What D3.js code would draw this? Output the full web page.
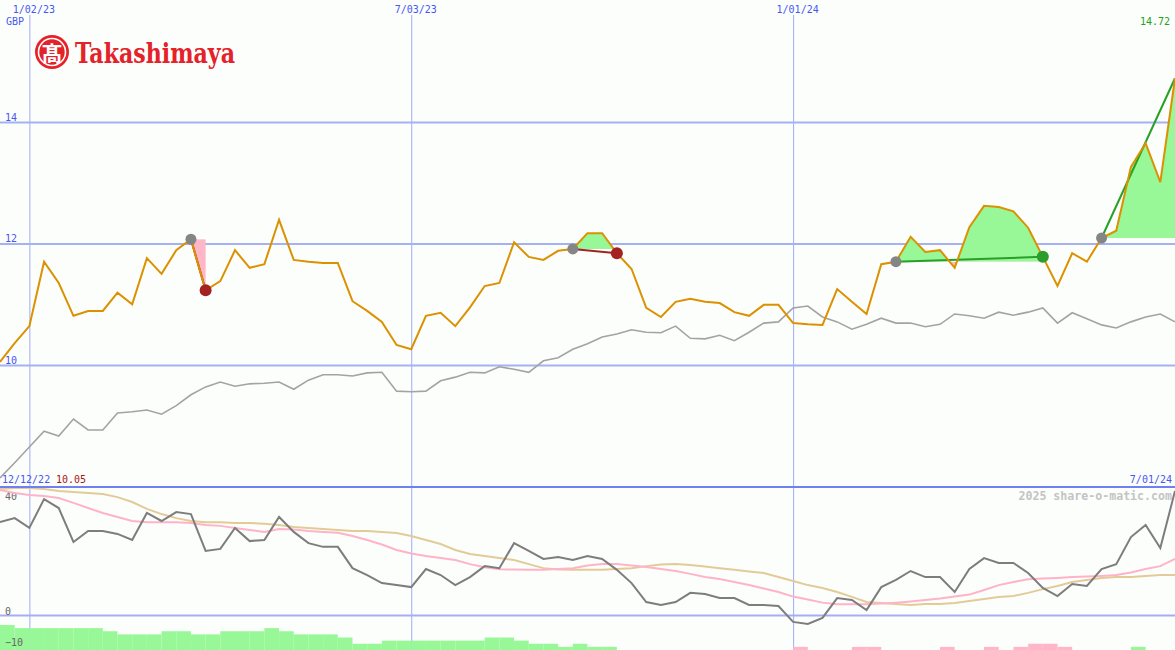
<!DOCTYPE html>
<html><head><meta charset="utf-8">
<script src="https://cdn.jsdelivr.net/npm/d3@7"></script>
<style>
body{margin:0;background:#fcfefc;}
svg{display:block;}
text{font-family:"DejaVu Sans Mono",monospace;font-size:10px;}
</style></head><body>
<svg id="c" width="1175" height="650"></svg>
<script>
// ---- data ----
const startDate = "2022-12-19";
const endDate = "2024-07-01";
const priceVals = [10.05,10.36,10.64,11.70,11.35,10.81,10.89,10.89,11.19,11.00,
 11.76,11.50,11.89,12.07,11.23,11.38,11.89,11.60,11.66,12.39,
 11.73,11.70,11.68,11.68,11.05,10.89,10.71,10.33,10.26,10.81,
 10.86,10.64,10.95,11.30,11.35,12.02,11.78,11.73,11.88,11.91,
 12.17,12.17,11.84,11.58,10.94,10.79,11.04,11.09,11.04,11.02,
 10.87,10.81,10.99,10.99,10.69,10.67,10.66,11.25,11.04,10.84,
 11.66,11.70,12.11,11.86,11.89,11.60,12.27,12.62,12.60,12.53,
 12.26,11.78,11.30,11.84,11.70,12.09,12.21,13.26,13.65,13.01,
 14.72];
const maVals = [8.14,8.39,8.65,8.91,8.83,9.11,8.93,8.93,9.21,9.23,
 9.26,9.19,9.33,9.51,9.64,9.72,9.65,9.69,9.70,9.72,
 9.60,9.75,9.84,9.84,9.82,9.87,9.88,9.57,9.56,9.57,
 9.74,9.80,9.88,9.87,9.97,9.93,9.88,10.07,10.12,10.26,
 10.35,10.46,10.51,10.58,10.54,10.53,10.64,10.44,10.43,10.49,
 10.40,10.54,10.69,10.71,10.94,10.97,10.79,10.71,10.59,10.67,
 10.77,10.69,10.69,10.63,10.67,10.84,10.81,10.77,10.87,10.82,
 10.87,10.94,10.69,10.86,10.76,10.66,10.61,10.71,10.79,10.84,
 10.71];
const oscVals = [32.3,33.7,30.3,40.3,37.2,25.4,29.2,29.2,28.2,26.1,
 35.5,32.7,35.8,35.1,22.3,23.0,30.3,25.7,26.1,34.1,
 28.9,25.0,23.7,23.7,16.3,13.9,11.1,10.4,9.7,16.0,
 13.9,10.4,13.2,17.0,16.3,25.0,22.3,19.5,20.2,19.1,
 20.5,19.5,15.7,11.1,4.5,3.5,4.5,7.7,7.3,5.9,
 5.9,3.5,3.5,3.1,-2.4,-3.1,-1.0,5.9,5.2,1.7,
 9.7,12.2,15.3,13.2,13.2,8.0,16.0,19.8,18.1,18.1,
 14.6,9.4,6.6,10.8,10.1,16.0,17.7,27.1,31.3,23.3,
 43.1];
const oscFast = [43.5,42.4,41.7,41.4,40.7,39.0,37.2,35.5,34.1,32.7,
 32.3,32.3,32.3,32.0,31.3,31.0,30.3,29.6,28.9,29.9,
 29.7,29.2,28.9,28.6,27.5,26.1,24.5,22.6,21.4,20.5,
 19.8,19.1,17.7,16.6,15.9,15.8,15.7,15.7,16.0,16.3,
 17.2,17.7,17.7,17.2,16.7,16.0,15.3,14.3,13.2,12.5,
 11.5,10.4,9.2,8.0,6.4,5.4,4.3,3.7,3.7,3.7,
 4.0,4.3,4.7,5.2,5.7,6.4,7.1,8.7,10.4,11.5,
 12.4,12.7,12.9,13.2,13.4,13.6,13.9,14.8,16.0,17.0,
 19.5];
const oscSlow = [43.8,44.2,44.2,43.8,43.1,42.8,42.4,42.1,41.0,39.3,
 36.9,35.1,33.7,32.7,32.3,32.3,32.0,32.0,31.7,31.3,
 30.6,30.3,29.9,29.6,29.2,29.2,28.9,28.5,27.5,26.1,
 24.7,22.6,21.2,20.5,19.8,19.1,17.7,16.3,15.8,15.7,
 15.7,15.7,16.0,16.3,17.0,17.6,17.7,17.4,16.9,16.3,
 15.7,15.1,14.6,13.2,11.8,10.4,9.4,8.0,6.3,4.5,
 4.2,3.8,3.5,3.8,3.8,4.2,4.9,5.6,6.3,6.6,
 7.7,9.0,10.1,11.5,12.2,12.9,13.2,13.2,13.6,13.9,
 13.9];
const barVals = [8,7,7,7,7,7,7,6,5,5, 5,6,6,5,5,6,6,6,7,6,
 5,5,5,4,2,2,3,3,3,3, 3,3,3,4,4,3,2,2,1,2,
 1,1,0,0,0,0,0,0,0,0, 0,0,0,0,-1,0,0,0,-1,-1,
 0,0,0,0,-1,0,0,-1,0,-1, -2,-2,-1,0,0,0,0,1,0,0];
const signalStart = [13, 39, 61, 75];
const signalEnd   = [14, 42, 71, 80];
const signalWin   = [false, false, true, true];
const yTicks = [10, 12, 14];
const oscTicks = [40, 0, -10];
const dateTicks = ["2023-01-02", "2023-07-03", "2024-01-01"];
const dateTickLabels = ["1/02/23", "7/03/23", "1/01/24"];
const currency = "GBP";
const lastLabel = "14.72";
const firstDateLabel = "12/12/22";
const firstValLabel = "10.05";
const lastDateLabel = "7/01/24";
const credit = "2025 share-o-matic.com";

// ---- setup ----
const W = 1175, H = 650;
const svg = d3.select("#c");
svg.append("rect").attr("width", W).attr("height", H).attr("fill", "#fcfefc");

const parse = d3.utcParse("%Y-%m-%d");
const dates = d3.utcMonday.range(parse(startDate), d3.utcDay.offset(parse(endDate), 1));
const x = d3.scaleUtc().domain([dates[0], dates[dates.length - 1]]).range([0, W]);
const y = d3.scaleLinear().domain([10, 14]).range([365, 122]);
const yL = d3.scaleLinear().domain([0, 40]).range([615, 500]);
const yBar = d3.scaleLinear().domain([0, 8]).range([650, 625]);
const sepY = Math.round(y(8));
const xi = i => x(dates[i]);

// vertical grid (date axis)
const gx = svg.append("g").call(d3.axisTop(x).tickValues(dateTicks.map(parse)).tickSize(-H).tickFormat((d, i) => dateTickLabels[i]));
gx.select(".domain").remove();
gx.selectAll("line").attr("stroke", "#a1abf3").attr("stroke-width", 1).attr("y1", 15).attr("y2", H);
gx.selectAll("text").attr("y", 13).attr("dy", 0).attr("x", 4).attr("fill", "#4657f2")
  .style("font-family", "DejaVu Sans Mono").style("font-size", "10px");

// horizontal grid main
const gy = svg.append("g").call(d3.axisRight(y).tickValues(yTicks).tickSize(W).tickFormat(d3.format("d")));
gy.select(".domain").remove();
gy.selectAll("line").attr("stroke", "#a6b1f2").attr("stroke-width", 2);
gy.selectAll("text").attr("x", 5).attr("y", -2).attr("dy", 0).attr("fill", "#4657f2")
  .style("font-family", "DejaVu Sans Mono").style("font-size", "10px");

svg.append("text").attr("x", 6).attr("y", 25).attr("fill", "#4657f2").text(currency);

// signal fills
const defs = svg.append("defs");
signalStart.forEach((s, k) => {
  const e = signalEnd[k];
  const base = priceVals[s];
  const idx = d3.range(s, e + 1);
  const area = d3.area().x(i => xi(i)).y0(y(base)).y1(i => y(priceVals[i]));
  const x0 = xi(s), x1 = xi(e);
  defs.append("clipPath").attr("id", "up" + k).append("rect")
    .attr("x", x0).attr("y", 0).attr("width", x1 - x0 + 1).attr("height", y(base));
  defs.append("clipPath").attr("id", "dn" + k).append("rect")
    .attr("x", x0).attr("y", y(base)).attr("width", x1 - x0 + 1).attr("height", sepY - y(base));
  svg.append("path").datum(idx).attr("d", area).attr("fill", "#98f898").attr("clip-path", "url(#up" + k + ")");
  svg.append("path").datum(idx).attr("d", area).attr("fill", "#ffb6c6").attr("clip-path", "url(#dn" + k + ")");
});

// signal lines (under price)
signalStart.forEach((s, k) => {
  const e = signalEnd[k];
  const col = signalWin[k] ? "#27a027" : "#a52222";
  svg.append("line").attr("x1", xi(s)).attr("y1", y(priceVals[s])).attr("x2", xi(e)).attr("y2", y(priceVals[e]))
    .attr("stroke", col).attr("stroke-width", 2);
});

// main lines
const lineMain = d3.line().x((d, i) => xi(i)).y(d => y(d));
svg.append("path").datum(maVals).attr("d", lineMain).attr("fill", "none").attr("stroke", "#a3a3a3").attr("stroke-width", 1.6);
svg.append("path").datum(priceVals).attr("d", lineMain).attr("fill", "none").attr("stroke", "#db9100").attr("stroke-width", 2);

// dots
signalStart.forEach((s, k) => {
  const e = signalEnd[k];
  svg.append("circle").attr("cx", xi(s)).attr("cy", y(priceVals[s])).attr("r", 5.5).attr("fill", "#858585");
  if (e < dates.length - 1) {
    svg.append("circle").attr("cx", xi(e)).attr("cy", y(priceVals[e])).attr("r", 6)
      .attr("fill", signalWin[k] ? "#2a9d2a" : "#a52222");
  }
});

svg.append("text").attr("x", 1170).attr("y", 25).attr("text-anchor", "end").attr("fill", "#22a022").text(lastLabel);

// ---- lower panel ----
svg.append("g").selectAll("rect").data(barVals).join("rect")
  .attr("x", (d, i) => xi(i)).attr("width", (d, i) => xi(i + 1) - xi(i))
  .attr("y", d => yBar(Math.abs(d))).attr("height", d => yBar(0) - yBar(Math.abs(d)))
  .attr("fill", d => d >= 0 ? "#98f898" : "#ffb6c8");

const gz = svg.append("g").call(d3.axisRight(yL).tickValues([0]).tickSize(W).tickFormat(""));
gz.select(".domain").remove();
gz.selectAll("line").attr("stroke", "#a5aef2").attr("stroke-width", 2);
const gl = svg.append("g").call(d3.axisRight(yL).tickValues(oscTicks).tickSize(0).tickFormat(d3.format("d")));
gl.select(".domain").remove();
gl.selectAll("text").attr("x", 5).attr("y", d => d < 0 ? 2 : -1).attr("dy", 0).attr("fill", "#666")
  .style("font-family", "DejaVu Sans Mono").style("font-size", "10px");

const lineLow = d3.line().x((d, i) => xi(i)).y(d => yL(d));
svg.append("path").datum(oscSlow).attr("d", lineLow).attr("fill", "none").attr("stroke", "#e3cb98").attr("stroke-width", 2);
svg.append("path").datum(oscFast).attr("d", lineLow).attr("fill", "none").attr("stroke", "#ffb3c8").attr("stroke-width", 2);
svg.append("path").datum(oscVals).attr("d", lineLow).attr("fill", "none").attr("stroke", "#7d7d7d").attr("stroke-width", 2);

svg.append("line").attr("x1", 0).attr("x2", W).attr("y1", sepY).attr("y2", sepY)
  .attr("stroke", "#7080f0").attr("stroke-width", 2);

svg.append("text").attr("x", 2).attr("y", 483).attr("fill", "#4657f2").text(firstDateLabel);
svg.append("text").attr("x", 56).attr("y", 483).attr("fill", "#aa1515").text(firstValLabel);
svg.append("text").attr("x", 1172).attr("y", 483).attr("text-anchor", "end").attr("fill", "#4657f2").text(lastDateLabel);
svg.append("text").attr("x", 1172).attr("y", 500).attr("text-anchor", "end").attr("fill", "#c4c4c4")
  .style("font-size", "11.6px").style("font-weight", "bold").text(credit);

// ---- logo ----
const logo = svg.append("g");
logo.append("circle").attr("cx", 52).attr("cy", 52).attr("r", 17).attr("fill", "#e52129");
logo.append("circle").attr("cx", 52).attr("cy", 52).attr("r", 13.5).attr("fill", "none").attr("stroke", "#fff").attr("stroke-width", 1.6);
logo.append("text").attr("x", 52).attr("y", 60.5).attr("text-anchor", "middle").attr("fill", "#fff")
  .style("font-family", "'Noto Sans CJK JP'").style("font-size", "21px").style("font-weight", "bold").text("髙");
logo.append("text").attr("x", 75).attr("y", 63).attr("fill", "#e52129")
  .attr("textLength", 160).attr("lengthAdjust", "spacingAndGlyphs")
  .style("font-family", "'DejaVu Serif'").style("font-size", "27px").style("font-weight", "bold").text("Takashimaya");
</script>
</body></html>
